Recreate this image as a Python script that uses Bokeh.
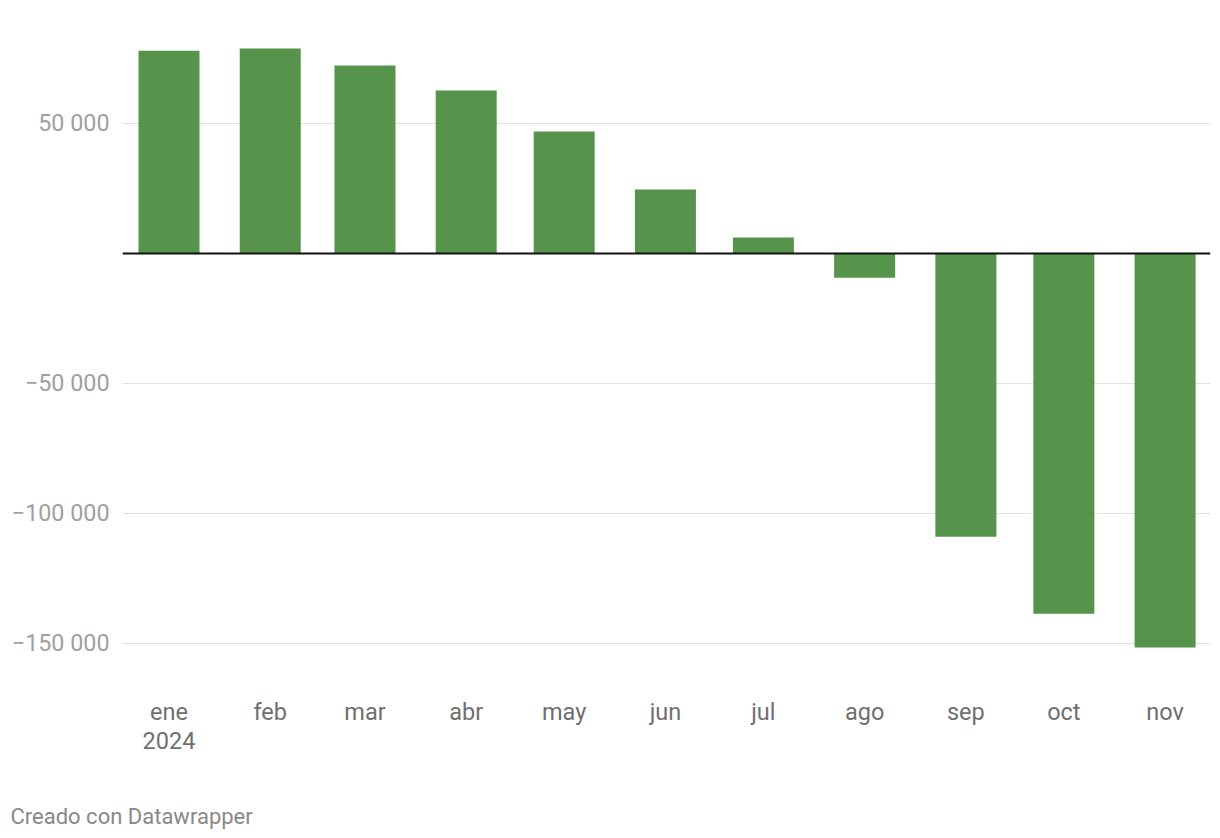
import pandas as pd
from bokeh.plotting import figure
from bokeh.models import FixedTicker, Span, Title, Range1d, ColumnDataSource
from bokeh.embed import file_html
from bokeh.resources import INLINE

# Data
months = ["2024-01-01", "2024-02-01", "2024-03-01", "2024-04-01", "2024-05-01", "2024-06-01",
          "2024-07-01", "2024-08-01", "2024-09-01", "2024-10-01", "2024-11-01"]
month_labels = ["ene\n2024", "feb", "mar", "abr", "may", "jun", "jul", "ago", "sep", "oct", "nov"]
values = [78000, 78800, 72300, 62700, 46900, 24600, 6200, -9300, -108900, -138600, -151500]
y_ticks = [-150000, -100000, -50000, 50000]
y_tick_labels = ["\u2212150 000", "\u2212100 000", "\u221250 000", "50 000"]

DAY = 86400000
dates = pd.to_datetime(months)
x_ms = [int(d.value // 10**6) for d in dates]
t0 = x_ms[0]

src = ColumnDataSource(dict(x=x_ms, top=values))

W, H = 1220, 838
left, right, top_b, bottom_b = 122, 10, 20, 158

p = figure(width=W, height=H, x_axis_type="datetime", output_backend="svg",
           toolbar_location=None, min_border_left=left, min_border_right=right,
           min_border_top=top_b, min_border_bottom=bottom_b,
           x_range=Range1d(t0 - 14.24 * DAY, t0 + 318.9 * DAY),
           y_range=Range1d(-164231, 89615))
p.outline_line_color = None
p.background_fill_color = "white"
p.border_fill_color = "white"

p.vbar(x="x", top="top", bottom=0, width=18.68 * DAY, source=src,
       fill_color="#55944a", line_color=None)

# axes
p.xaxis.ticker = FixedTicker(ticks=x_ms)
p.xaxis.major_label_overrides = {k: v for k, v in zip(x_ms, month_labels)}
p.xaxis.axis_line_color = None
p.xaxis.major_tick_line_color = None
p.xaxis.minor_tick_line_color = None
p.xaxis.major_tick_out = 0
p.xaxis.major_label_standoff = 17
p.xaxis.major_label_text_font = "Roboto"
p.xaxis.major_label_text_font_size = "23.5px"
p.xaxis.major_label_text_color = "#6f6f6f"
p.xaxis.major_label_text_line_height = 1.06
# invisible spacer label to push the footer down
p.xaxis.axis_label = " "
p.xaxis.axis_label_text_font_size = "1px"
p.xaxis.axis_label_text_color = "white"
p.xaxis.axis_label_standoff = 34

p.yaxis.ticker = FixedTicker(ticks=y_ticks)
p.yaxis.major_label_overrides = {k: v for k, v in zip(y_ticks, y_tick_labels)}
p.yaxis.axis_line_color = None
p.yaxis.major_tick_line_color = None
p.yaxis.minor_tick_line_color = None
p.yaxis.major_tick_out = 0
p.yaxis.major_label_standoff = 13
p.yaxis.major_label_text_font = "Roboto"
p.yaxis.major_label_text_font_size = "23.3px"
p.yaxis.major_label_text_color = "#a0a0a0"

p.xgrid.grid_line_color = None
p.ygrid.grid_line_color = "#e0e0e0"
p.ygrid.grid_line_width = 1

p.add_layout(Span(location=0, dimension="width", line_color="#111111", line_width=2))

footer = Title(text="Creado con Datawrapper", align="left", offset=10 - left, standoff=10,
               text_font="Roboto", text_font_size="22px", text_font_style="normal",
               text_color="#888888")
p.add_layout(footer, "below")

open("out.html", "w").write(file_html(p, INLINE))
